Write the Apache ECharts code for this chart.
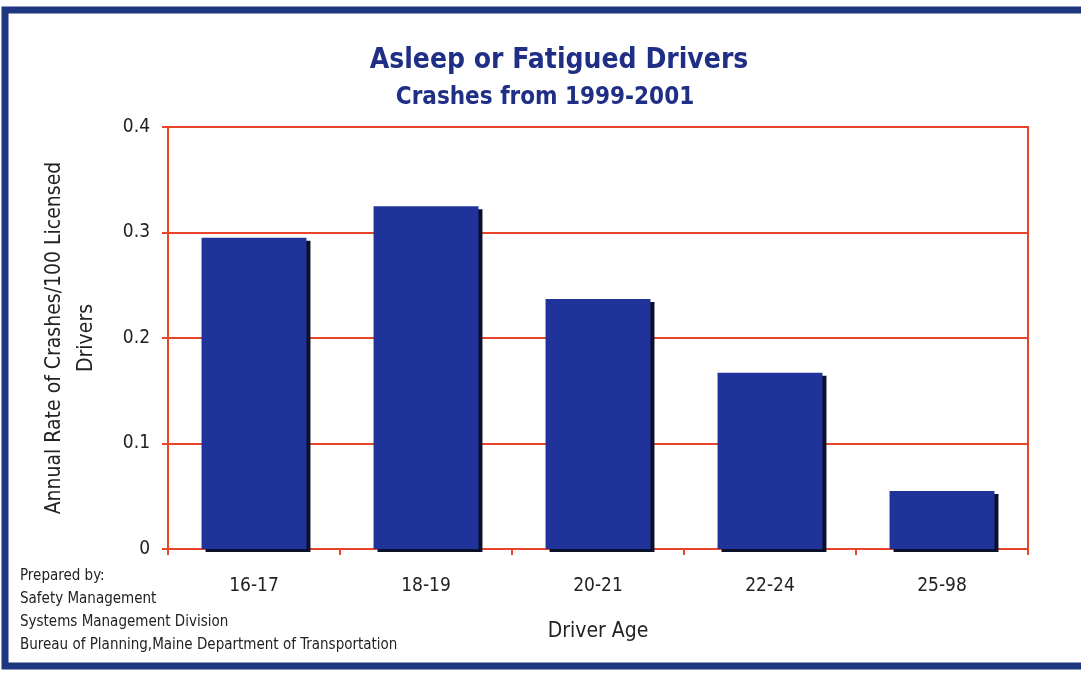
<!DOCTYPE html>
<html><head><meta charset="utf-8">
<script src="https://cdn.jsdelivr.net/npm/echarts@6/dist/echarts.min.js"></script>
<style>html,body{margin:0;padding:0;background:#fff}#c{width:1081px;height:673px}</style>
</head><body><div id="c"></div>
<script>
const categories = ['16-17', '18-19', '20-21', '22-24', '25-98'];
const rates = [0.295, 0.325, 0.237, 0.167, 0.055];
const yTicks = [0, 0.1, 0.2, 0.3, 0.4];
const footerLines = ['Prepared by:', 'Safety Management', 'Systems Management Division', 'Bureau of Planning,Maine Department of Transportation'];

const FONT = "'Liberation Sans Narrow','DejaVu Sans Condensed','Arial Narrow',sans-serif";
const NAVY = '#1f2f85';
const RED = '#e8442a';
const chart = echarts.init(document.getElementById('c'));
chart.setOption({
  backgroundColor: '#fff',
  animation: false,
  title: [
    { text: 'Asleep or Fatigued Drivers', left: 554, top: 42, textAlign: 'center',
      textStyle: { fontFamily: FONT, fontSize: 28, fontWeight: 'bold', color: NAVY } },
    { text: 'Crashes from 1999-2001', left: 540, top: 81, textAlign: 'center',
      textStyle: { fontFamily: FONT, fontSize: 24, fontWeight: 'bold', color: NAVY } }
  ],
  grid: { left: 168, right: 53, top: 127, bottom: 124, show: true, borderColor: RED, borderWidth: 2 },
  xAxis: {
    type: 'category', data: categories,
    axisLine: { lineStyle: { color: RED, width: 2 } },
    axisTick: { show: true, length: 6, lineStyle: { color: RED, width: 2 } },
    axisLabel: { margin: 28, fontFamily: FONT, fontSize: 19, color: '#222' },
    name: 'Driver Age', nameLocation: 'middle', nameGap: 72,
    nameTextStyle: { fontFamily: FONT, fontSize: 21, color: '#222' }
  },
  yAxis: {
    type: 'value', min: 0, max: 0.4, interval: 0.1,
    axisLine: { show: true, lineStyle: { color: RED, width: 2 } },
    axisTick: { show: true, length: 6, lineStyle: { color: RED, width: 2 } },
    splitLine: { lineStyle: { color: RED, width: 2 } },
    axisLabel: { margin: 18, fontFamily: FONT, fontSize: 19, color: '#222',
      formatter: v => yTicks.includes(Math.round(v*10)/10) ? String(Math.round(v*10)/10) : '' },
    name: 'Annual Rate of Crashes/100 Licensed\nDrivers', nameLocation: 'middle', nameGap: 65,
    nameTextStyle: { fontFamily: FONT, fontSize: 21, color: '#222', lineHeight: 32 }
  },
  series: [{
    type: 'bar', data: rates, barCategoryGap: '39%',
    itemStyle: { color: '#20339a', shadowColor: '#0a0f2a', shadowOffsetX: 4, shadowOffsetY: 3, shadowBlur: 0 }
  }],
  graphic: [
    { type: 'rect', shape: { x: 5, y: 10, width: 1090, height: 656 }, style: { fill: 'none', stroke: '#1e3580', lineWidth: 7 } },
    ...footerLines.map((t, i) => ({ type: 'text', left: 20, top: 569 + i * 23,
      style: { text: t, font: '15px ' + FONT, fill: '#222' } }))
  ]
});
</script></body></html>
